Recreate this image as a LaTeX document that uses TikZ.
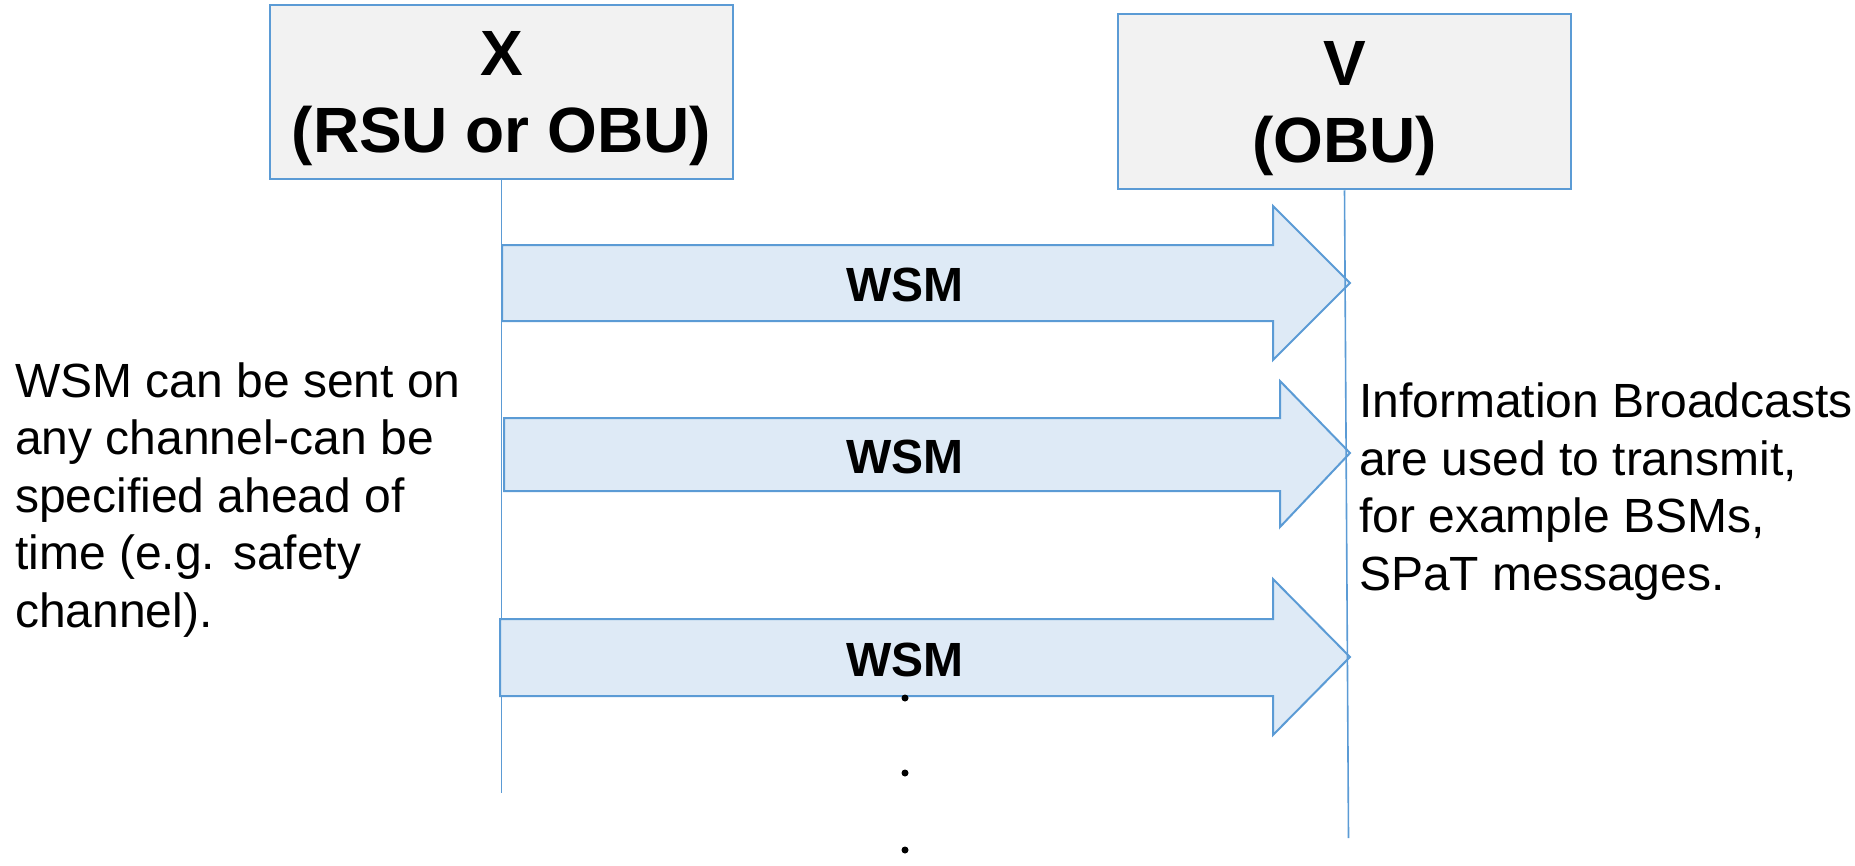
\documentclass[tikz,border=0pt]{standalone}
\usepackage{fontspec}
\setmainfont{Liberation Sans}
\usepackage{tikz}
\definecolor{linecol}{RGB}{91,155,213}
\definecolor{arrowfill}{RGB}{222,234,246}
\definecolor{boxfill}{RGB}{242,242,242}

\begin{document}
\begin{tikzpicture}[x=1pt,y=-1pt,
  unit/.style={draw=linecol,line width=2.5pt,fill=boxfill,inner sep=0pt,align=center,text depth=0pt,font=\fontsize{64}{77}\selectfont\bfseries},
  life/.style={linecol,line width=1.6pt},
  msg/.style={draw=linecol,line width=2pt,fill=arrowfill,line join=miter},
  note/.style={inner sep=0pt,align=left,font=\fontsize{48}{57.5}\selectfont}]
\useasboundingbox (0,0) rectangle (1855,865);
% the two stations
\node[unit,minimum width=463pt,minimum height=174pt] (boxX) at (501.5,92) {X\\(RSU or OBU)};
\node[unit,minimum width=453pt,minimum height=175pt] (boxV) at (1344.5,101.5) {V\\(OBU)};
\coordinate (endX) at (boxX.south |- 0,793);
\coordinate (endV) at (1348.5,838);
\draw[life] (boxX.south) -- (endX);
% broadcast messages
\foreach \i/\xl/\shtop/\shbot/\hx/\hdtop/\hdbot/\tipy in {1/502/245/321/1273/206/360/283,2/504/418/491/1280/381/527/453,3/500/619/696/1273/579/735/657}{
  \draw[msg] (\xl,\shtop) -- (\hx,\shtop) -- (\hx,\hdtop) -- (1350,\tipy) -- (\hx,\hdbot) -- (\hx,\shbot) -- (\xl,\shbot) -- cycle;
  \node[inner sep=0pt,font=\fontsize{48}{48}\selectfont\bfseries] (wsm\i) at (905,{(\shtop+\shbot)/2+2}) {WSM};
}
\draw[life] (boxV.south) -- (endV);
\foreach \y in {698,773,850} \fill (905,\y) circle (3.5pt);
% notes
\node[note,anchor=base west] (leftnote) at (15,627) {WSM can be sent on\\any channel-can be\\specified ahead of\\time (e.g. safety\\channel).};
\node[note,anchor=base west] (rightnote) at (1359,590) {Information Broadcasts\\are used to transmit,\\for example BSMs,\\SPaT messages.};
\end{tikzpicture}
\end{document}
